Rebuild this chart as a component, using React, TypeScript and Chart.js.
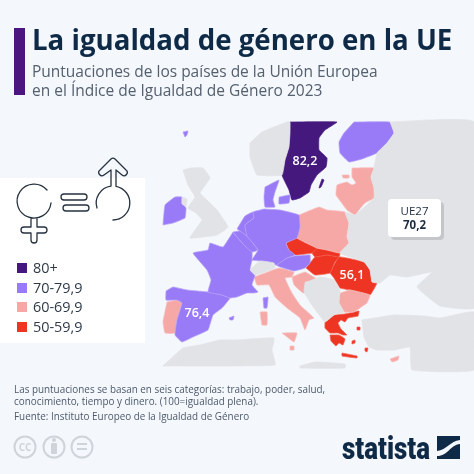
import React, { useEffect, useRef } from "react";
import { Chart, registerables } from "chart.js";

Chart.register(...registerables);

type Pt = [number, number];

const C80 = "#45187d";
const C70 = "#9a7bf7";
const C60 = "#f5a8a6";
const C50 = "#ee3524";
const GRAY = "#e2e3e6";

const title = "La igualdad de género en la UE";
const subtitle = ["Puntuaciones de los países de la Unión Europea", "en el Índice de Igualdad de Género 2023"];
const legendLabels = ["80+", "70-79,9", "60-69,9", "50-59,9"];
const legendColors = [C80, C70, C60, C50];
const notes = [
  "Las puntuaciones se basan en seis categorías: trabajo, poder, salud,",
  "conocimiento, tiempo y dinero. (100=igualdad plena).",
  "Fuente: Instituto Europeo de la Igualdad de Género",
];

// Non-EU land, in map units
const eastBlock: Pt[] = [[390,122],[474,122],[474,308],[440,306],[417,287],[432,272],[407,277],[390,275],[380,283],[377,283],[372,282],[370,270],[364,262],[340,253],[349,243],[347,237],[349,223],[345,212],[355,215],[374,198],[374,188],[371,177],[374,168],[377,153],[387,143],[394,133]];
const turkey: Pt[] = [[362,320],[394,315],[424,316],[440,318],[474,312],[474,370],[412,370],[410,347],[394,350],[377,350],[369,347],[364,337]];
const northAfrica: Pt[] = [[163,366],[183,348],[200,345],[220,340],[237,340],[274,338],[272,350],[275,365]];
const libya: Pt[] = [[300,366],[315,362],[345,364],[345,368],[300,368]];
const uk: Pt[] = [[183,170],[191,168],[203,168],[210,178],[200,193],[208,201],[217,210],[228,227],[217,235],[190,238],[202,220],[196,213],[188,208],[195,197],[188,185]];
const northernIreland: Pt[] = [[182,197],[187,199],[186,206],[182,204]];
const norway: Pt[] = [[250,143],[262,132],[287,122],[290,122],[290,133],[289,147],[285,160],[282,175],[257,175],[250,157]];
const switzerland: Pt[] = [[250,270],[260,261],[274,263],[275,268],[265,272],[255,275]];
const balkans: Pt[] = [[305,283],[320,277],[334,280],[340,290],[339,303],[344,312],[334,315],[325,322],[312,305],[304,292]];

// 80+
const sweden: Pt[] = [[290,122],[337,122],[325,130],[319,138],[319,150],[327,158],[326,167],[317,175],[311,185],[309,192],[300,198],[292,200],[289,190],[282,175],[285,160],[289,147],[290,133]];
const gotland: Pt[] = [[322,179],[324,180],[321,187],[319,188]];

// 70-79,9
const finland: Pt[] = [[354,122],[390,122],[394,133],[387,143],[377,153],[362,159],[349,162],[340,153],[339,142],[344,133]];
const jutland: Pt[] = [[265,187],[279,180],[275,192],[273,200],[275,207],[265,207],[264,197]];
const zealand: Pt[] = [[279,197],[290,195],[289,203],[279,204]];
const faroe: Pt[] = [[183,132],[188,131],[187,135],[185,137]];
const germany: Pt[] = [[264,209],[280,210],[299,215],[300,227],[297,238],[286,243],[289,250],[295,255],[287,258],[276,265],[260,261],[252,260],[258,250],[247,236],[245,225],[254,218],[253,212]];
const netherlands: Pt[] = [[237,229],[245,216],[253,212],[254,218],[245,225],[247,236],[240,231]];
const belgium: Pt[] = [[233,232],[240,231],[247,236],[258,250],[252,252],[243,244]];
const france: Pt[] = [[233,232],[243,244],[252,252],[252,260],[250,270],[255,275],[252,285],[258,292],[254,293],[247,293],[237,297],[230,298],[222,295],[208,292],[211,280],[207,270],[193,253],[208,250],[210,243],[223,247]];
const austria: Pt[] = [[276,265],[287,258],[295,256],[310,255],[310,263],[305,268],[294,271],[280,267]];
const spain: Pt[] = [[166,291],[173,287],[187,290],[208,292],[222,295],[230,298],[222,308],[213,315],[208,330],[193,337],[182,342],[175,335],[177,320],[182,303],[177,300],[166,300]];
const balearics: Pt[] = [[229,318],[234,316],[233,320],[230,320]];
const ireland: Pt[] = [[163,225],[165,205],[175,197],[182,197],[182,203],[186,208],[185,218],[173,223]];
const corsica: Pt[] = [[263,298],[268,297],[267,308],[264,308]];

// 60-69,9
const baltics: Pt[] = [[352,168],[374,168],[371,177],[374,188],[374,198],[365,203],[359,210],[355,215],[347,210],[341,202],[336,195],[337,185],[347,182],[352,185],[356,183],[352,177]];
const saaremaa: Pt[] = [[342,175],[349,175],[349,178],[343,178]];
const poland: Pt[] = [[299,215],[319,207],[327,210],[345,212],[349,223],[347,237],[349,243],[340,253],[327,250],[317,248],[297,238],[300,227]];
const bulgaria: Pt[] = [[340,293],[350,290],[370,295],[367,303],[360,308],[354,312],[344,312],[339,302]];
const portugal: Pt[] = [[167,302],[177,300],[182,303],[177,320],[175,333],[165,333],[163,322]];
const italy: Pt[] = [[254,277],[265,273],[279,268],[294,272],[292,277],[285,278],[292,293],[300,305],[314,318],[309,320],[305,330],[300,318],[287,308],[275,297],[269,285],[257,285]];
const sicily: Pt[] = [[282,333],[297,333],[294,342]];
const sardinia: Pt[] = [[260,312],[267,312],[267,325],[262,325]];
const malta: Pt[] = [[290,346],[294,346],[294,350],[290,350]];
const croatia: Pt[] = [[292,277],[305,272],[318,280],[305,282],[309,292],[303,293],[294,285]];
const cyprus: Pt[] = [[390,359],[399,356],[398,360],[392,362]];

// 50-59,9
const czechia: Pt[] = [[286,243],[297,238],[317,248],[312,253],[295,255],[289,250]];
const slovakia: Pt[] = [[317,248],[327,250],[340,253],[339,257],[327,255],[315,257],[312,253]];
const hungary: Pt[] = [[306,268],[310,263],[315,257],[327,255],[339,257],[335,262],[330,273],[315,275]];
const romania: Pt[] = [[330,273],[339,257],[364,262],[370,270],[372,282],[377,283],[370,295],[350,290],[340,288],[334,278]];
const greeceMain: Pt[] = [[325,322],[334,315],[345,314],[359,311],[358,316],[348,318],[345,322],[341,320],[338,323],[341,329],[347,335],[343,335],[338,333],[330,333],[325,328]];
const peloponnese: Pt[] = [[330,335],[339,335],[345,339],[343,345],[339,343],[336,346],[331,341]];
const crete: Pt[] = [[342,353],[357,356],[357,358],[342,356]];
const lesbos: Pt[] = [[357,327],[360,327],[360,330],[357,330]];
const rhodes: Pt[] = [[365,348],[368,348],[367,352],[365,351]];
const cyclades: Pt[] = [[352,341],[355,340],[355,343],[352,344]];

const groups: [string, string, Pt[][]][] = [
  [GRAY, "#e2e3e6", [eastBlock, turkey, northAfrica, libya, uk, northernIreland, norway, switzerland, balkans]],
  [C70, "#b5a0f8", [finland, jutland, zealand, faroe, germany, netherlands, belgium, france, austria, spain, balearics, ireland, corsica]],
  [C60, "#f9c2c0", [baltics, saaremaa, poland, bulgaria, portugal, italy, sicily, sardinia, malta, croatia, cyprus]],
  [C50, "#f4604f", [czechia, slovakia, hungary, romania, greeceMain, peloponnese, crete, lesbos, rhodes, cyclades]],
  [C80, C80, [sweden, gotland]],
];

const valueLabels: { text: string; x: number; y: number }[] = [
  { text: "82,2", x: 305, y: 161 },
  { text: "56,1", x: 352, y: 275 },
  { text: "76,4", x: 197, y: 313 },
];

const labelsPlugin = {
  id: "valueLabels",
  afterDatasetsDraw(chart: any) {
    const { ctx, scales } = chart;
    ctx.save();
    ctx.fillStyle = "#ffffff";
    ctx.font = "600 12.5px 'Open Sans'";
    ctx.textAlign = "center";
    ctx.textBaseline = "middle";
    for (const l of valueLabels) {
      ctx.fillText(l.text, scales.x.getPixelForValue(l.x), scales.y.getPixelForValue(l.y));
    }
    ctx.restore();
  },
};

const font = "'Open Sans', sans-serif";
const abs = (left: number, top: number, extra: React.CSSProperties = {}): React.CSSProperties => ({
  position: "absolute",
  left,
  top,
  whiteSpace: "nowrap",
  fontFamily: font,
  ...extra,
});

export default function App() {
  const ref = useRef<HTMLCanvasElement>(null);
  useEffect(() => {
    const datasets: any[] = [];
    for (const [fill, border, shapes] of groups) {
      for (const s of shapes) {
        datasets.push({
          data: [...s, s[0]].map(([x, y]) => ({ x, y })),
          showLine: true,
          fill: "shape",
          backgroundColor: fill,
          borderColor: border,
          borderWidth: 0.7,
          pointRadius: 0,
          tension: 0.1,
        });
      }
    }
    const chart = new Chart(ref.current as HTMLCanvasElement, {
      type: "scatter",
      data: { datasets },
      options: {
        animation: false,
        responsive: false,
        events: [],
        layout: { padding: 0 },
        plugins: { legend: { display: false }, tooltip: { enabled: false } },
        scales: {
          x: { type: "linear", min: 0, max: 474, display: false },
          y: { type: "linear", min: 0, max: 474, reverse: true, display: false },
        },
      } as any,
      plugins: [labelsPlugin as any],
    });
    return () => chart.destroy();
  }, []);

  const stroke = { fill: "none", stroke: "#26323f", strokeWidth: 1.3, strokeLinecap: "round" as const, strokeLinejoin: "round" as const };
  return (
    <div style={{ position: "fixed", left: 0, top: 0, width: 474, height: 474, background: "#f4f7fb", overflow: "hidden" }}>
      <div style={{ position: "absolute", left: 0, top: 178, width: 145, height: 165, background: "#ffffff" }} />
      <canvas ref={ref} width={474} height={474} style={{ position: "absolute", left: 0, top: 0, width: 474, height: 474 }} />

      <div style={{ position: "absolute", left: 14, top: 28, width: 11, height: 67, background: "#4b1680" }} />
      <div style={abs(32, 20, { fontSize: 27.65, lineHeight: "38px", fontWeight: 700, color: "#0f2a47" })}>{title}</div>
      {subtitle.map((s, i) => (
        <div key={i} style={abs(32, 61 + i * 19, { fontSize: 15.5, lineHeight: "20px", color: "#55606f" })}>{s}</div>
      ))}

      <svg width={474} height={474} style={{ position: "absolute", left: 0, top: 0 }}>
        <path d="M47 190 A17 17 0 1 0 51 203 M31 218 V227 H24 A3 3 0 0 0 24 233 H31 V240 A3 3 0 0 0 37 240 V233 H44 A3 3 0 0 0 44 227 H37 V218" {...stroke} />
        <rect x={61} y={194} width={26} height={6} rx={3} {...stroke} />
        <rect x={63} y={205} width={26} height={6} rx={3} {...stroke} />
        <path d="M116 186.3 A17 17 0 0 1 113 220 M111 186.1 A17 17 0 0 0 97 208 M111 186 V170 L104 175 A3 3 0 0 1 100 170 L111 159 A3 3 0 0 1 115 159 L126 170 A3 3 0 0 1 122 175 L116 170 V186" {...stroke} />
        {[25, 54, 82].map((cx) => (
          <circle key={cx} cx={cx} cy={447} r={10.5} fill="none" stroke="#cfd4da" strokeWidth={2} />
        ))}
        <text x={25} y={451} textAnchor="middle" fontFamily="'Open Sans'" fontWeight={700} fontSize={10} fill="#cfd4da">CC</text>
        <circle cx={54} cy={440} r={2} fill="#cfd4da" />
        <rect x={51} y={443} width={6} height={11} rx={1} fill="#cfd4da" />
        <rect x={77} y={443} width={10} height={2} fill="#cfd4da" />
        <rect x={77} y={448} width={10} height={2} fill="#cfd4da" />
        <text x={342} y={459} textLength={88} lengthAdjust="spacingAndGlyphs" fontFamily="Roboto" fontWeight={900} fontSize={31} fill="#0f2a47">statista</text>
        <path d="M437 436 H460 V440 C450 441 447 450 437 451 Z M460 444 V459 H437 V456 C448 456 450 445 460 444 Z" fill="#0f2a47" />
      </svg>

      {legendLabels.map((l, i) => (
        <React.Fragment key={l}>
          <div style={{ position: "absolute", left: 17, top: 263 + i * 19.5, width: 10, height: 10, background: legendColors[i] }} />
          <div style={abs(33, 258 + i * 19.5, { fontSize: 14.4, lineHeight: "20px", color: "#2f3a48" })}>{l}</div>
        </React.Fragment>
      ))}

      <div style={{ position: "absolute", left: 388, top: 199, width: 53, height: 38, background: "#fff", borderRadius: 4, boxShadow: "3px 3px 0 #c4c6ca", textAlign: "center", fontFamily: font, fontSize: 11.5, lineHeight: "14px", color: "#1c2c40", paddingTop: 5, boxSizing: "border-box" }}>
        <div>UE27</div>
        <div style={{ fontWeight: 700 }}>70,2</div>
      </div>

      {notes.map((n, i) => (
        <div key={i} style={abs(14, [382, 394, 409][i], { fontSize: 9.9, lineHeight: "14px", color: "#4d5a6b" })}>{n}</div>
      ))}
    </div>
  );
}
